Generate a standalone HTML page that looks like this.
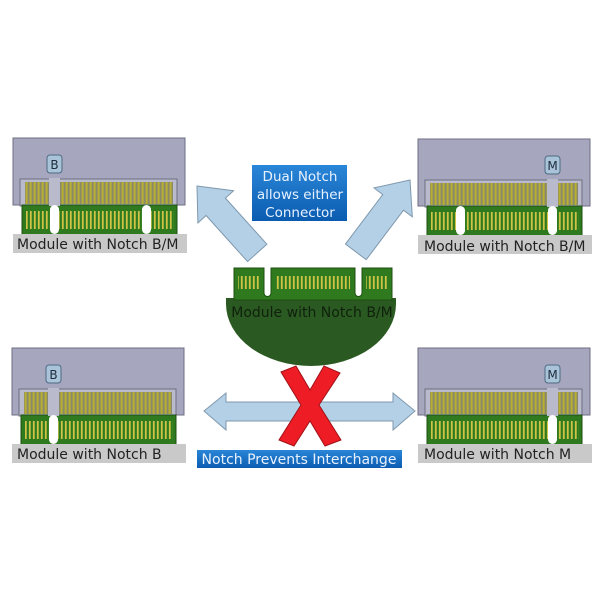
<!DOCTYPE html>
<html><head><style>html,body{margin:0;padding:0;background:#fff}svg{display:block}</style></head>
<body>
<svg width="600" height="600" viewBox="0 0 600 600" xmlns="http://www.w3.org/2000/svg" font-family="'DejaVu Sans','Liberation Sans',sans-serif">
<defs>
<pattern id="pin" width="4" height="10" patternUnits="userSpaceOnUse"><rect width="4" height="10" fill="#8a8a6a"/><rect x="0.6" width="2" height="10" fill="#b8ae30"/></pattern>
<pattern id="gpin" width="4" height="10" patternUnits="userSpaceOnUse"><rect width="4" height="10" fill="#2f7a1f"/><rect x="0.9" width="1.8" height="10" fill="#cfc445"/></pattern>
<linearGradient id="blue" x1="0" y1="0" x2="0" y2="1"><stop offset="0" stop-color="#2a86d8"/><stop offset="1" stop-color="#0b5cb0"/></linearGradient>
<g id="base">
<rect x="0" y="0" width="172" height="67" fill="#a6a7bf" stroke="#6d6e80"/>
<rect x="7" y="41" width="157" height="27" fill="#b9bacb" stroke="#6d6e80"/>
<rect x="12" y="44" width="148" height="22" fill="url(#pin)"/>
<rect x="9" y="67" width="155" height="30" fill="#2f7a1f" stroke="#1d4f12"/>
<rect x="13" y="73" width="148" height="18" fill="url(#gpin)"/>
<rect x="0" y="96" width="174" height="19" fill="#c9c9c9"/>
</g>
<polygon id="arr" points="0,0 24,28 13,28 13,90 -13,90 -13,28 -24,28" fill="#b3d0e6" stroke="#7f98ad"/>
</defs>

<g transform="translate(13,138)">
<use href="#base"/>
<rect x="36" y="40" width="11" height="28" fill="#b9bacb"/>
<rect x="37" y="67" width="9" height="29" rx="4.5" fill="#fff"/>
<rect x="129" y="67" width="9" height="29" rx="4.5" fill="#fff"/>
<rect x="34" y="17" width="15" height="18" rx="3" fill="#a9c3d8" stroke="#4d6a80"/>
<text x="41.5" y="31" font-size="12" text-anchor="middle" fill="#1d2d3d">B</text>
<text x="4" y="111" font-size="14" fill="#222">Module with Notch B/M</text>
</g>
<g transform="translate(418,139)">
<use href="#base"/>
<rect x="129" y="40" width="11" height="28" fill="#b9bacb"/>
<rect x="130" y="67" width="9" height="29" rx="4.5" fill="#fff"/>
<rect x="38" y="67" width="9" height="29" rx="4.5" fill="#fff"/>
<rect x="127" y="17" width="15" height="18" rx="3" fill="#a9c3d8" stroke="#4d6a80"/>
<text x="134.5" y="31" font-size="12" text-anchor="middle" fill="#1d2d3d">M</text>
<text x="6" y="112" font-size="14" fill="#222">Module with Notch B/M</text>
</g>
<g transform="translate(12,348)">
<use href="#base"/>
<rect x="36" y="40" width="11" height="28" fill="#b9bacb"/>
<rect x="37" y="67" width="9" height="29" rx="4.5" fill="#fff"/>
<rect x="34" y="17" width="15" height="18" rx="3" fill="#a9c3d8" stroke="#4d6a80"/>
<text x="41.5" y="31" font-size="12" text-anchor="middle" fill="#1d2d3d">B</text>
<text x="5" y="111" font-size="14" fill="#222">Module with Notch B</text>
</g>
<g transform="translate(418,348)">
<use href="#base"/>
<rect x="129" y="40" width="11" height="28" fill="#b9bacb"/>
<rect x="130" y="67" width="9" height="29" rx="4.5" fill="#fff"/>
<rect x="127" y="17" width="15" height="18" rx="3" fill="#a9c3d8" stroke="#4d6a80"/>
<text x="134.5" y="31" font-size="12" text-anchor="middle" fill="#1d2d3d">M</text>
<text x="6" y="111" font-size="14" fill="#222">Module with Notch M</text>
</g>

<use href="#arr" transform="translate(197,186) rotate(-42)"/>
<use href="#arr" transform="translate(410,180) rotate(37)"/>

<rect x="252" y="165" width="95" height="56" fill="url(#blue)"/>
<text x="300" y="181" font-size="13.5" fill="#e8f2ff" text-anchor="middle">Dual Notch</text>
<text x="300" y="199" font-size="13.5" fill="#e8f2ff" text-anchor="middle">allows either</text>
<text x="300" y="217" font-size="13.5" fill="#e8f2ff" text-anchor="middle">Connector</text>

<path d="M226,298 L396,298 L396,304 A85,62 0 0 1 226,304 Z" fill="#2a5a22"/>
<path d="M234,268 L264,268 L264,293 A3.5,3.5 0 0 0 271,293 L271,268 L355,268 L355,293 A3.5,3.5 0 0 0 362,293 L362,268 L392,268 L392,300 L234,300 Z" fill="#2f7a1f" stroke="#1d4f12"/>
<rect x="238" y="276" width="22" height="13" fill="url(#gpin)"/>
<rect x="276" y="276" width="74" height="13" fill="url(#gpin)"/>
<rect x="366" y="276" width="22" height="13" fill="url(#gpin)"/>
<text x="312" y="317" font-size="14" fill="#10200c" text-anchor="middle">Module with Notch B/M</text>

<polygon points="204,411 226,393 226,402 393,402 393,393 415,411 393,430 393,421 226,421 226,430" fill="#b3d0e6" stroke="#7f98ad"/>
<polygon points="281,372 296,366 310,390 324,366 340,373 319,405 341,440 325,446 310,421 294,446 279,440 301,405" fill="#ee1c24" stroke="#a01218"/>

<rect x="197" y="450" width="205" height="18" fill="url(#blue)"/>
<text x="299" y="464" font-size="14" fill="#e8f2ff" text-anchor="middle">Notch Prevents Interchange</text>
</svg>
</body></html>
